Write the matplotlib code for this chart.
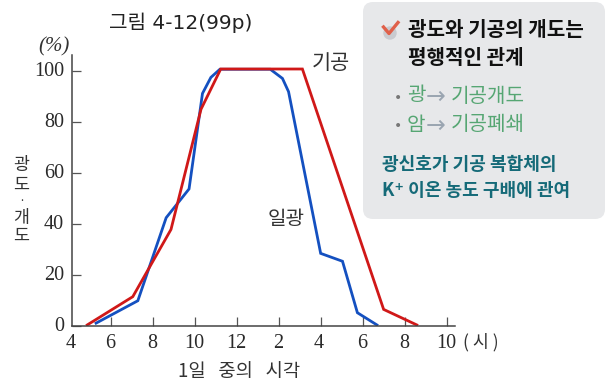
import matplotlib
matplotlib.use("Agg")
import matplotlib.pyplot as plt
from matplotlib.patches import FancyBboxPatch

plt.rcParams['font.family'] = ['Noto Sans CJK KR', 'DejaVu Sans']

W, H = 607, 386
SERIF = ['Liberation Serif', 'DejaVu Serif']

# hours counted from midnight, 14 = 2 pm etc.
red_hours = [4.88, 7.05, 8.87, 10.3, 11.24, 15.13, 19.0, 20.58]
red_vals = [0.3, 11.4, 37.8, 85, 100.8, 100.8, 6.4, 0.3]
blue_hours = [5.3, 7.29, 8.64, 9.73, 10.37, 10.77, 11.2, 13.6, 14.18, 14.47, 16.0, 17.04, 17.75, 18.68]
blue_vals = [1, 9.8, 42.4, 53.7, 91.2, 97.5, 100.7, 100.7, 97.1, 91.9, 28.4, 25.3, 5.1, 0.3]

x_ticks = [6, 8, 10, 12, 14, 16, 18, 20, 22]
x_labels = ['4', '6', '8', '10', '12', '2', '4', '6', '8', '10']
y_ticks = [0, 20, 40, 60, 80, 100]

fig = plt.figure(figsize=(W / 100, H / 100), dpi=100)

# axes placed by pixel: spine at x=71.5, baseline at y=325.7
left, right, top, bottom = 71.5, 455, 55, 325.7
ax = fig.add_axes([left / W, 1 - bottom / H, (right - left) / W, (bottom - top) / H])
ax.set_xlim(4.13, 22.4)
ax.set_ylim(0, 106.3)
ax.patch.set_alpha(0)

ax.plot(blue_hours, blue_vals, color='#1450c0', lw=2.0, solid_joinstyle='miter')
ax.plot(red_hours, red_vals, color='#d01818', lw=2.0, solid_joinstyle='miter')

for s in ['top', 'right']:
    ax.spines[s].set_visible(False)
for s in ['left', 'bottom']:
    ax.spines[s].set_color('#444444')
    ax.spines[s].set_linewidth(1.1)

ax.set_xticks(x_ticks)
ax.set_xticklabels([])
ax.set_yticks(y_ticks)
ax.set_yticklabels([])
ax.tick_params(axis='both', direction='in', length=6.5, width=0.9, color='#555555')


def px_text(x, y, s, **kw):
    kw.setdefault('ha', 'center')
    kw.setdefault('va', 'center')
    return fig.text(x / W, 1 - y / H, s, **kw)


# tick labels
x_label_px = [71, 110, 152, 194, 236, 278, 319, 362, 404, 446]
for xp, lab in zip(x_label_px, x_labels):
    px_text(xp, 344, lab, family=SERIF, fontsize=14.5, color='#2a2a2a')
for v in y_ticks:
    px_text(64, 326.5 - v * 2.547, str(v), ha='right', family=SERIF, fontsize=14.5, color='#2a2a2a')

px_text(54, 47, '(%)', family=SERIF, fontsize=15, style='italic', color='#333333')
px_text(481, 342, '( 시 )', fontsize=12.5, color='#333333')
px_text(239, 372, '1일   중의   시각', fontsize=13.5, color='#333333')
px_text(331, 63, '기공', fontsize=15, color='#333333')
px_text(286, 220, '일광', fontsize=14.5, color='#333333')
for yp, ch in zip([165, 185, 236], ['광', '도', '도']):
    px_text(21, yp, ch, fontsize=12.5, color='#333333')
px_text(22, 201, '·', fontsize=6, weight='bold', color='#333333')
px_text(21, 218, '개', fontsize=12.5, color='#333333')

px_text(181, 23, '그림 4-12(99p)', fontsize=14.5, color='#222222',
        family=['DejaVu Sans', 'Noto Sans CJK KR'])

# text panel, drawn in pixels
panel = FancyBboxPatch((363, H - 219), 242, 217, boxstyle='round,pad=0,rounding_size=10',
                       transform=None, facecolor='#e7e8ea', edgecolor='none')
fig.add_artist(panel)

# check mark
fig.add_artist(plt.Circle((390, H - 33), 6, transform=None, color='#c9cbd0'))
fig.add_artist(plt.Line2D([383.5, 389, 398], [H - 27, H - 33.5, H - 22.5], transform=None,
                          color='#e0604a', lw=2.4))

black = '#111111'
green = '#56a673'
teal = '#156a78'
gray = '#9aa5b1'
px_text(408, 29, '광도와 기공의 개도는', ha='left', fontsize=14.5, weight='bold', color=black)
px_text(408, 58, '평행적인 관계', ha='left', fontsize=14.5, weight='bold', color=black)

px_text(398, 98, '•', fontsize=10, color='#777777', family='DejaVu Sans')
px_text(407, 96, '광', ha='left', fontsize=14.5, color=green)
px_text(436, 97, '→', fontsize=17, color=gray, family='DejaVu Sans')
px_text(451, 96, '기공개도', ha='left', fontsize=14.5, color=green)
px_text(398, 126, '•', fontsize=10, color='#777777', family='DejaVu Sans')
px_text(407, 125, '암', ha='left', fontsize=14.5, color=green)
px_text(436, 126, '→', fontsize=17, color=gray, family='DejaVu Sans')
px_text(451, 125, '기공폐쇄', ha='left', fontsize=14.5, color=green)

px_text(382, 165, '광신호가 기공 복합체의', ha='left', fontsize=13, weight='bold', color=teal)
px_text(382, 190, 'K⁺ 이온 농도 구배에 관여', ha='left', fontsize=13, weight='bold', color=teal,
        family=['Noto Sans CJK KR', 'DejaVu Sans'])

fig.savefig('out.png', dpi=100)
